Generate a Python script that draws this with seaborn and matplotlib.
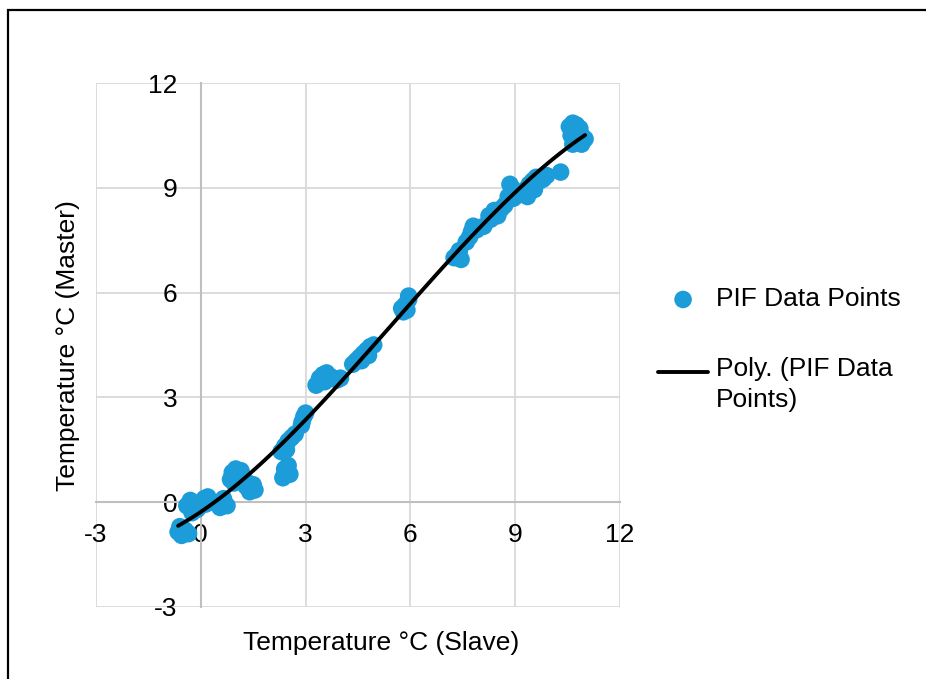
import matplotlib
matplotlib.use('Agg')
import numpy as np
import pandas as pd
import seaborn as sns
from matplotlib import pyplot as plt
from matplotlib.patches import Rectangle


# PIF data points (slave vs master temperature, deg C)
SLAVE = [-0.65, -0.55, -0.45, -0.6, -0.35,
         -0.4, -0.3, -0.2, -0.1, -0.25, 0.0,
         0.1, 0.2, 0.25, 0.15,
         0.5, 0.6, 0.75, 0.65, 0.55,
         0.85, 0.9, 1.0, 1.1, 1.05, 0.95, 1.15, 0.95, 1.2,
         1.3, 1.4, 1.5, 1.55, 1.35,
         2.35, 2.45, 2.5, 2.4, 2.55,
         2.3, 2.4, 2.5, 2.6, 2.7, 2.45,
         2.9, 2.95, 3.0, 2.88,
         3.3, 3.4, 3.5, 3.6, 3.7, 3.8, 3.9, 4.0, 3.55,
         4.35, 4.45, 4.55, 4.65, 4.75, 4.85, 4.95, 4.6, 4.8,
         5.75, 5.85, 5.95, 5.9, 5.8, 5.95,
         7.25, 7.35, 7.45, 7.4,
         7.6, 7.7, 7.8, 7.9, 8.1, 8.3, 8.4, 8.5, 8.6, 8.7, 8.8, 8.9,
         7.75, 8.25, 8.85, 8.95, 9.35, 9.55,
         9.0, 9.1, 9.2, 9.3, 9.4, 9.5, 9.6, 9.7, 9.8, 9.9, 10.3,
         10.55, 10.65, 10.75, 10.85, 10.9, 10.95, 10.7, 10.6, 10.8, 11.0, 10.65, 10.9]
MASTER = [-0.85, -0.95, -0.8, -0.7, -0.9,
          -0.1, 0.05, -0.05, -0.2, -0.3, -0.1,
          0.1, 0.15, 0.0, -0.05,
          -0.05, 0.0, -0.1, 0.1, -0.15,
          0.65, 0.85, 0.95, 0.8, 0.6, 0.75, 0.9, 0.55, 0.75,
          0.45, 0.3, 0.5, 0.35, 0.55,
          0.7, 0.85, 1.05, 0.95, 0.8,
          1.45, 1.6, 1.75, 1.85, 1.95, 1.5,
          2.3, 2.45, 2.55, 2.2,
          3.35, 3.55, 3.65, 3.7, 3.6, 3.55, 3.5, 3.55, 3.45,
          3.95, 4.05, 4.15, 4.25, 4.35, 4.45, 4.5, 4.05, 4.2,
          5.55, 5.65, 5.8, 5.5, 5.45, 5.9,
          7.0, 7.1, 6.95, 7.2,
          7.45, 7.6, 7.9, 7.8, 7.9, 8.1, 8.35, 8.2, 8.4, 8.5, 8.75, 9.0,
          7.75, 8.2, 9.1, 8.7, 8.75, 8.95,
          8.9, 8.8, 8.85, 8.95, 9.1, 9.2, 9.3, 9.2, 9.25, 9.35, 9.45,
          10.75, 10.85, 10.8, 10.7, 10.5, 10.35, 10.4, 10.5, 10.6, 10.4, 10.25, 10.25]

TICKS = [-3, 0, 3, 6, 9, 12]

BLUE = '#1c9cd8'


def main():
    df = pd.DataFrame({'slave': SLAVE, 'master': MASTER})

    sns.set_theme(style='white')
    plt.rcParams['font.family'] = ['Liberation Sans', 'DejaVu Sans']
    plt.rcParams['font.size'] = 19
    plt.rcParams['axes.unicode_minus'] = False
    plt.rcParams['text.color'] = 'black'

    fig = plt.figure(figsize=(9.26, 6.79), dpi=100)
    ax = fig.add_axes([96 / 926, 1 - 607 / 679, 524 / 926, 524 / 679])

    sns.scatterplot(x='slave', y='master', data=df, color=BLUE, s=160,
                    edgecolor='none', linewidth=0, label='PIF Data Points', ax=ax, zorder=3)
    sns.regplot(x='slave', y='master', data=df, order=3, ci=None, scatter=False,
                line_kws=dict(color='black', lw=2.8, zorder=4),
                label='Poly. (PIF Data\nPoints)', ax=ax)

    ax.set_xlim(-3, 12)
    ax.set_ylim(-3, 12)
    ax.set_xticks(TICKS)
    ax.set_yticks(TICKS)
    ax.grid(True, color='#d9d9d9', lw=1.3)
    ax.set_axisbelow(True)

    # excel style: axes cross at zero
    for side in ['top', 'right']:
        ax.spines[side].set_visible(False)
    ax.spines['left'].set_position(('data', 0))
    ax.spines['bottom'].set_position(('data', 0))
    for side in ['left', 'bottom']:
        ax.spines[side].set_color('#bfbfbf')
        ax.spines[side].set_linewidth(1.5)
        ax.spines[side].set_zorder(1)
    ax.tick_params(axis='x', length=0, pad=15, labelsize=19, labelcolor='black')
    ax.tick_params(axis='y', length=0, pad=17, labelsize=19, labelcolor='black')

    ax.set_xlabel('')
    ax.set_ylabel('')
    fig.text(381 / 926, 1 - 643 / 679, 'Temperature °C (Slave)', ha='center', va='center',
             fontsize=19, color='black')
    fig.text(68 / 926, 1 - 346 / 679, 'Temperature °C (Master)', ha='center', va='center',
             rotation=90, fontsize=19, color='black')

    leg = ax.legend(loc='center left', bbox_to_anchor=(658 / 926, 1 - 349.5 / 679),
                    bbox_transform=fig.transFigure, frameon=False, fontsize=19,
                    handlelength=1.9, handletextpad=0.3, labelspacing=1.74,
                    borderpad=0, borderaxespad=0)
    for t in leg.get_texts():
        t.set_color('black')
        t.set_linespacing(1.33)
    # trendline handle sits next to the first line of its label, like excel
    line_handle = leg.legend_handles[1]
    line_handle.set_ydata(np.asarray(line_handle.get_ydata()) + 9.4)

    # outer chart frame
    fig.patches.append(Rectangle((8 / 926, -0.2), 1.2, 1.2 - 10 / 679, transform=fig.transFigure,
                                 fill=False, ec='black', lw=1.6))

    fig.savefig('out.png', dpi=100)


if __name__ == '__main__':
    main()
